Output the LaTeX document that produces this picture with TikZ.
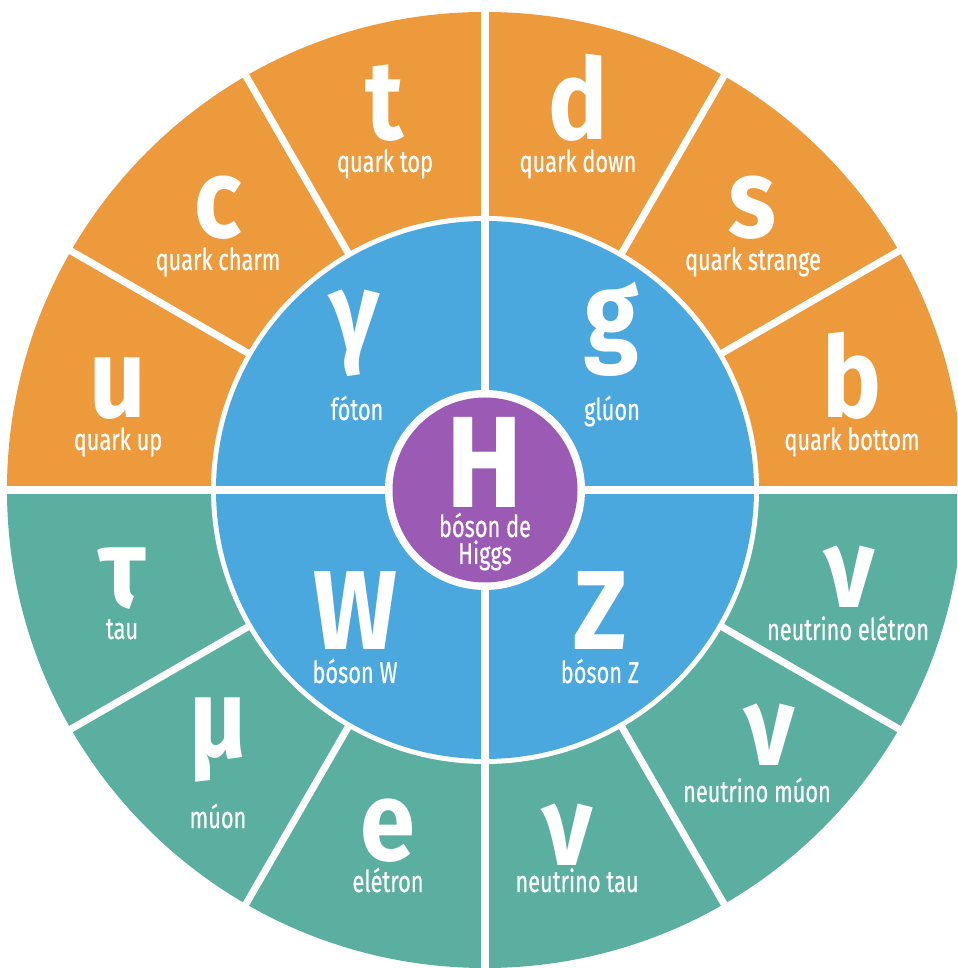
\documentclass[tikz,border=0pt]{standalone}
\usepackage{fontspec}
\setmainfont{Fira Sans}
\newfontfamily\bigsymfont{Fira Sans}[FakeStretch=0.88]
\newfontfamily\partlabfont{Fira Sans}[FakeStretch=0.72,FakeBold=0.5]
\usepackage{tkz-euclide}
\definecolor{quarkorange}{HTML}{EC9A3C}
\definecolor{leptongreen}{HTML}{5BAFA1}
\definecolor{bosonblue}{HTML}{4AA8DE}
\definecolor{higgspurple}{HTML}{9B5BB5}
\tikzset{
  bigsym/.style={font=\bigsymfont\bfseries\fontsize{32}{32}\selectfont,text=white,anchor=base,inner sep=0pt},
  partlab/.style={font=\partlabfont\fontsize{8.6}{10}\selectfont,text=white,anchor=base,inner sep=0pt},
}

\begin{document}
\begin{tikzpicture}
\tkzDefPoints{0/0/O}
\fill[white] (-4.85,-4.78) rectangle (4.72,4.90);
\useasboundingbox (-4.85,-4.78) rectangle (4.72,4.90);
\clip (-4.85,-4.78) rectangle (4.72,4.90);

% the ring: quarks above, leptons below
\fill[quarkorange] (0:4.78) arc (0:180:4.78) -- cycle;
\fill[leptongreen] (180:4.78) arc (180:360:4.78) -- cycle;
\fill[white] (O) circle (2.74);
\fill[bosonblue] (O) circle (2.69);

\tkzDefPoint(0:4.9){E}
\tkzDefPoint(90:4.9){N}
\tkzDefPoint(180:4.9){Wp}
\tkzDefPoint(270:4.9){S}
\tkzDrawSegments[color=white,line width=2pt](Wp,E N,S)
\foreach \a in {30,60,120,150,210,240,300,330}
  \draw[white,line width=2pt] (\a:2.71) -- (\a:4.9);

\fill[white] (O) circle (1.0);
\fill[higgspurple] (O) circle (0.925);

% quarks
\node[bigsym] (qu) at (-3.67,0.72) {u};
\node[partlab] (qulab) at (-3.67,0.40) {quark up};
\node[bigsym] (qc) at (-2.67,2.52) {c};
\node[partlab] (qclab) at (-2.67,2.20) {quark charm};
\node[bigsym] (qt) at (-1.00,3.50) {t};
\node[partlab] (qtlab) at (-1.00,3.18) {quark top};
\node[bigsym] (qd) at (0.93,3.50) {d};
\node[partlab] (qdlab) at (0.93,3.18) {quark down};
\node[bigsym] (qs) at (2.67,2.52) {s};
\node[partlab] (qslab) at (2.68,2.20) {quark strange};
\node[bigsym] (qb) at (3.67,0.72) {b};
\node[partlab] (qblab) at (3.67,0.40) {quark bottom};

% bosons
\node[bigsym] (bgamma) at (-1.30,1.38) {γ};
\node[partlab] (bgammalab) at (-1.28,0.70) {fóton};
\node[bigsym] (bg) at (1.27,1.38) {g};
\node[partlab] (bglab) at (1.27,0.70) {glúon};
\node[bigsym] (bw) at (-1.30,-1.60) {W};
\node[partlab] (bwlab) at (-1.30,-1.93) {bóson W};
\node[bigsym] (bz) at (1.15,-1.60) {Z};
\node[partlab] (bzlab) at (1.15,-1.93) {bóson Z};
\node[bigsym,font=\bigsymfont\bfseries\fontsize{37}{37}\selectfont] (higgs) at (0,-0.18) {H};
\node[partlab] (higgslab) at (0,-0.47) {bóson de};
\node[partlab] (higgslabb) at (0,-0.74) {Higgs};

% leptons
\node[bigsym] (ltau) at (-3.63,-1.18) {τ};
\node[partlab] (ltaulab) at (-3.63,-1.49) {tau};
\node[bigsym] (lmu) at (-2.67,-2.67) {μ};
\node[partlab] (lmulab) at (-2.67,-3.38) {múon};
\node[bigsym] (le) at (-0.97,-3.70) {e};
\node[partlab] (lelab) at (-0.97,-4.02) {elétron};
\node[bigsym] (lnue) at (3.65,-1.18) {ν};
\node[partlab] (lnuelab) at (3.63,-1.50) {neutrino elétron};
\node[bigsym] (lnumu) at (2.85,-2.75) {ν};
\node[partlab] (lnumulab) at (2.72,-3.12) {neutrino múon};
\node[bigsym] (lnutau) at (0.83,-3.75) {ν};
\node[partlab] (lnutaulab) at (0.92,-4.02) {neutrino tau};
\end{tikzpicture}
\end{document}
